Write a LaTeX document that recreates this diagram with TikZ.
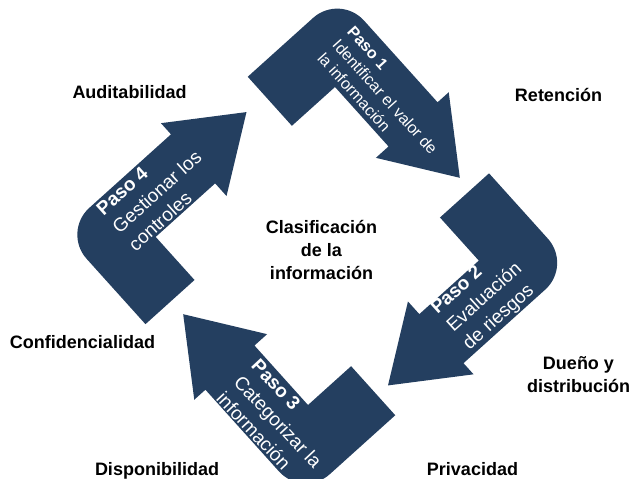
\documentclass[tikz,border=0pt]{standalone}
\usepackage{fontspec}
\setmainfont{Liberation Sans}
\definecolor{arrowblue}{HTML}{243F60}
\tikzset{
  bentarrow/.pic={
    \fill[arrowblue] (0,-58) -- (0,0) -- (80,0) -- (80,-17) -- (151,32) -- (80,81) -- (80,66)
      -- (-30,66) arc[start angle=90,end angle=180,radius=36] -- (-66,-58) -- cycle;
  }
}
\begin{document}
\begin{tikzpicture}[x=1pt,y=1pt,
  lbl/.style={font=\bfseries\fontsize{18}{23}\selectfont, align=center, inner sep=0pt, text=black},
  stxtA/.style={text=white, align=left, inner sep=0pt, font=\fontsize{16}{20}\selectfont},
  stxtB/.style={text=white, align=left, inner sep=0pt, font=\fontsize{19}{24}\selectfont}]
\useasboundingbox (0,0) rectangle (633,-479);
\clip (0,0) rectangle (633,-479);
\pic[rotate=-48] at (335,-87) {bentarrow};
\pic[rotate=-138] at (478.8,-260.6) {bentarrow};
\pic[rotate=132] at (308,-405) {bentarrow};
\pic[rotate=42] at (155.7,-236.9) {bentarrow};

\node[stxtA, rotate=-48] (t1) at (385,-97) {\textbf{Paso 1}\\Identificar el valor de\\la información};
\node[stxtB, rotate=42] (t2) at (485,-298) {\textbf{Paso 2}\\Evaluación\\de riesgos};
\node[stxtB, rotate=-47] (t3) at (278,-422) {\textbf{Paso 3}\\Categorizar la\\información};
\node[stxtB, rotate=42] (t4) at (157,-192) {\textbf{Paso 4}\\Gestionar los\\controles};

\node[lbl, anchor=base] (aud) at (129.5,-98.3) {Auditabilidad};
\node[lbl, anchor=base] (ret) at (558.5,-101.7) {Retención};
\node[lbl, anchor=base] (conf) at (82.5,-348.3) {Confidencialidad};
\node[lbl] (due) at (578.5,-375) {Dueño y\\distribución};
\node[lbl] (clas) at (321.5,-250) {Clasificación\\de la\\información};
\node[lbl, anchor=base] (disp) at (157,-475) {Disponibilidad};
\node[lbl, anchor=base] (priv) at (472.5,-475) {Privacidad};
\end{tikzpicture}
\end{document}
